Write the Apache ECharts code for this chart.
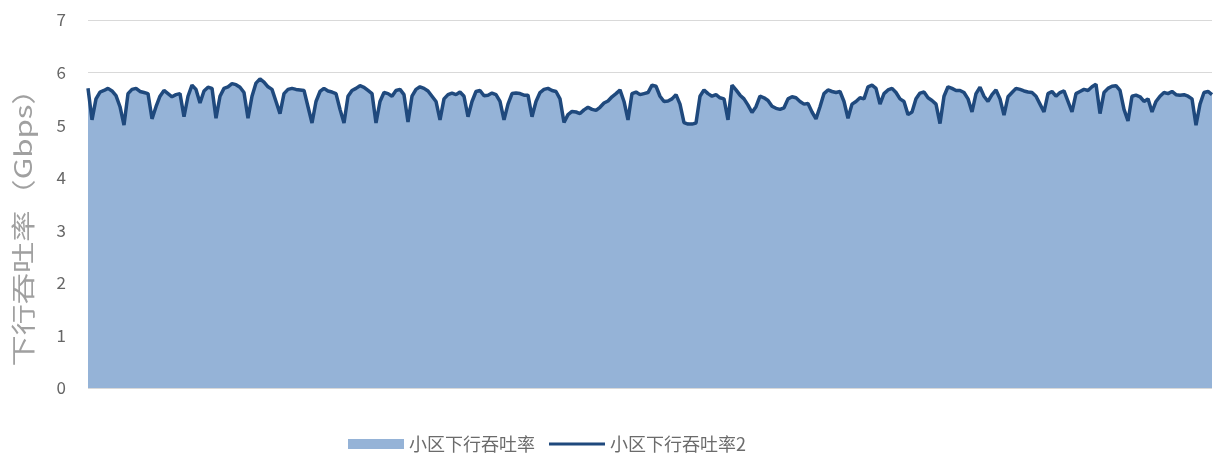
<!DOCTYPE html>
<html>
<head>
<meta charset="utf-8">
<style>
  html, body { margin: 0; padding: 0; background: #fff; }
  #chart { width: 1216px; height: 459px; }
</style>
<script src="https://cdn.jsdelivr.net/npm/echarts@6/dist/echarts.min.js"></script>
</head>
<body>
<div id="chart"></div>
<script>
// 小区下行吞吐率 (Gbps) left to right
const throughput = [
  5.70, 5.10, 5.50, 5.63, 5.66, 5.70, 5.65, 5.56, 5.35, 5.00, 5.60, 5.68, 5.70, 5.64, 5.62, 5.60,
  5.12, 5.35, 5.55, 5.66, 5.60, 5.54, 5.58, 5.60, 5.16, 5.55, 5.76, 5.68, 5.42, 5.65, 5.72, 5.70,
  5.13, 5.55, 5.70, 5.73, 5.79, 5.77, 5.72, 5.62, 5.13, 5.55, 5.80, 5.88, 5.82, 5.73, 5.68,
  5.45, 5.22, 5.60, 5.68, 5.70, 5.68, 5.67, 5.66, 5.35, 5.04, 5.45, 5.64, 5.70, 5.65, 5.63, 5.60,
  5.30, 5.04, 5.55, 5.66, 5.70, 5.75, 5.72, 5.66, 5.60, 5.04, 5.45, 5.62, 5.60, 5.55, 5.66, 5.68,
  5.58, 5.06, 5.55, 5.68, 5.73, 5.70, 5.65, 5.55, 5.45, 5.10, 5.50, 5.58, 5.61, 5.58, 5.63,
  5.55, 5.16, 5.45, 5.64, 5.66, 5.56, 5.57, 5.61, 5.58, 5.45, 5.10, 5.40, 5.60, 5.61, 5.60, 5.57,
  5.57, 5.16, 5.45, 5.62, 5.68, 5.70, 5.66, 5.64, 5.50, 5.05, 5.20, 5.26, 5.25, 5.22, 5.29, 5.34,
  5.30, 5.28, 5.34, 5.42, 5.46, 5.54, 5.60, 5.67, 5.45, 5.10, 5.60, 5.63, 5.58, 5.60, 5.62,
  5.76, 5.74, 5.55, 5.45, 5.46, 5.50, 5.58, 5.40, 5.05, 5.02, 5.02, 5.04, 5.55, 5.67, 5.60, 5.55,
  5.58, 5.52, 5.50, 5.10, 5.76, 5.67, 5.57, 5.50, 5.38, 5.24, 5.35, 5.55, 5.52, 5.47, 5.36, 5.32,
  5.30, 5.33, 5.50, 5.54, 5.52, 5.45, 5.40, 5.41, 5.25, 5.12, 5.35, 5.60, 5.67, 5.64, 5.62,
  5.64, 5.45, 5.13, 5.40, 5.45, 5.52, 5.50, 5.73, 5.76, 5.70, 5.40, 5.60, 5.67, 5.70, 5.62, 5.50,
  5.45, 5.20, 5.25, 5.50, 5.61, 5.63, 5.52, 5.47, 5.40, 5.03, 5.55, 5.73, 5.70, 5.66, 5.66, 5.62,
  5.50, 5.25, 5.60, 5.72, 5.55, 5.45, 5.58, 5.67, 5.50, 5.19, 5.54, 5.62, 5.70, 5.68,
  5.65, 5.63, 5.62, 5.55, 5.40, 5.25, 5.60, 5.64, 5.55, 5.62, 5.65, 5.45, 5.25, 5.60, 5.64, 5.68,
  5.66, 5.73, 5.78, 5.22, 5.62, 5.70, 5.74, 5.75, 5.66, 5.30, 5.08, 5.55, 5.57, 5.54, 5.45, 5.50,
  5.25, 5.45, 5.55, 5.62, 5.60, 5.64, 5.58, 5.57, 5.58, 5.55, 5.50, 5.00, 5.40, 5.62, 5.64, 5.58
];
// same samples drawn again as the dark outline series
const throughput2 = throughput.slice();
const samples = throughput.map((_, i) => String(i + 1));
const yTicks = [0, 1, 2, 3, 4, 5, 6, 7];

const chart = echarts.init(document.getElementById("chart"));
chart.setOption({
  animation: false,
  textStyle: { fontFamily: "Noto Sans CJK SC" },
  grid: { left: 88, right: 4, top: 20, bottom: 71 },
  // y axis title, stretched along its length like the original
  graphic: [
    {
      type: "text",
      x: 23,
      y: 220,
      rotation: Math.PI / 2,
      scaleX: 1.3,
      style: {
        text: "下行吞吐率（Gbps）",
        font: '24px "Noto Sans CJK SC"',
        fill: "#a0a0a0",
        align: "center",
        verticalAlign: "middle",
      },
    },
  ],
  legend: {
    left: 343,
    top: 430,
    itemWidth: 56,
    itemHeight: 10,
    itemGap: 14,
    textStyle: { fontSize: 18, color: "#6b6b6b" },
    data: [
      { name: "小区下行吞吐率", icon: "rect" },
      { name: "小区下行吞吐率2", icon: "path://M0,0 L56,0 L56,3 L0,3 Z" },
    ],
  },
  xAxis: {
    type: "category",
    data: samples,
    boundaryGap: false,
    axisLine: { show: false },
    axisTick: { show: false },
    axisLabel: { show: false },
  },
  yAxis: {
    type: "value",
    min: yTicks[0],
    max: yTicks[yTicks.length - 1],
    interval: 1,
    axisLine: { show: false },
    axisTick: { show: false },
    axisLabel: { fontSize: 17, color: "#666666", margin: 22 },
    splitLine: { lineStyle: { color: "#d9d9d9", width: 1 } },
  },
  series: [
    {
      name: "小区下行吞吐率",
      type: "line",
      data: throughput,
      symbol: "none",
      itemStyle: { color: "#95b3d7" },
      lineStyle: { width: 0 },
      areaStyle: { color: "#95b3d7", opacity: 1 },
    },
    {
      name: "小区下行吞吐率2",
      type: "line",
      data: throughput2,
      symbol: "none",
      itemStyle: { color: "#1f497d" },
      lineStyle: { color: "#1f497d", width: 3.5 },
    },
  ],
});
</script>
</body>
</html>
